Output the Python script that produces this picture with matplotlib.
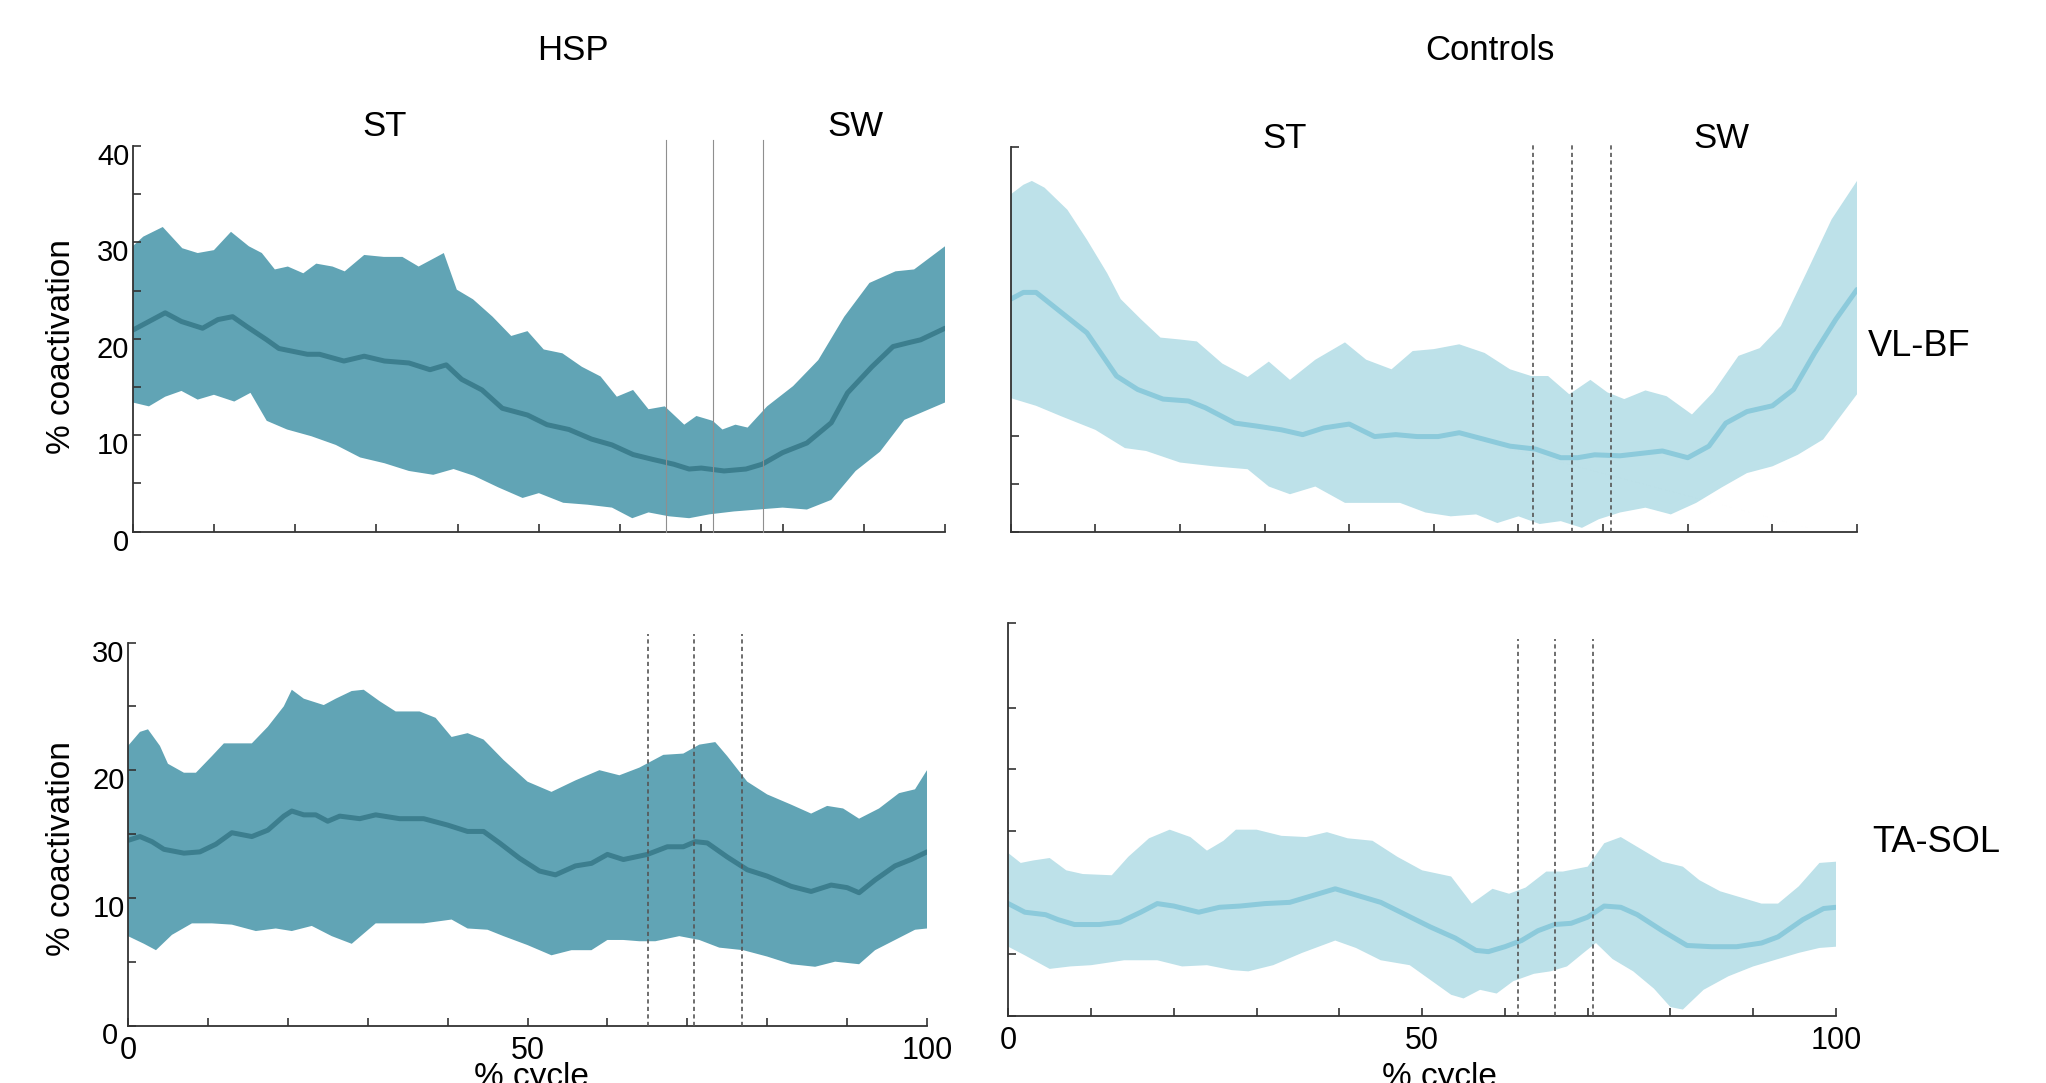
import numpy as np
import matplotlib
matplotlib.use('Agg')
import matplotlib.pyplot as plt
from matplotlib.transforms import ScaledTranslation

plt.rcParams['font.family'] = ['Liberation Sans', 'DejaVu Sans']

# HSP, VL-BF (上段左)
hsp_vlbf_up_x = [0, 1.3, 3.7, 6.1, 8.0, 10.0, 12.1, 14.3, 15.9, 17.5, 19.1, 21.0, 22.6, 24.6, 26.1, 28.5,
                 30.9, 33.2, 35.2, 37.2, 38.3, 39.9, 41.9, 44.3, 46.6, 48.6, 50.6, 52.9, 55.3, 57.6, 59.6,
                 61.6, 63.5, 65.5, 67.9, 69.4, 71.4, 72.6, 74.2, 75.7, 78.1, 81.3, 84.4, 87.6, 90.7, 93.9,
                 96.2, 100]
hsp_vlbf_up = [29.6, 30.6, 31.6, 29.4, 28.9, 29.2, 31.1, 29.6, 28.9, 27.2, 27.5, 26.8, 27.8, 27.5, 27.0, 28.7,
               28.5, 28.5, 27.5, 28.4, 28.9, 25.1, 24.1, 22.3, 20.3, 20.8, 18.9, 18.5, 17.1, 16.1, 14.0,
               14.7, 12.7, 13.0, 11.1, 12.0, 11.5, 10.6, 11.1, 10.8, 13.0, 15.1, 17.8, 22.3, 25.8, 27.0,
               27.2, 29.6]
hsp_vlbf_mean_x = [0, 2, 4, 6, 8.6, 10.5, 12.3, 14, 16.5, 18, 21.5, 23, 26, 28.5, 31, 34, 36.6, 38.6, 40.5,
                   43, 45.5, 48.6, 51, 53.7, 56.5, 59, 61.6, 64, 66.6, 68.5, 70, 72.8, 75.5, 77.5, 80, 83,
                   86, 88, 91, 93.6, 95.5, 97, 100]
hsp_vlbf_mean = [20.9, 21.8, 22.7, 21.8, 21.1, 22.0, 22.3, 21.3, 19.9, 19.0, 18.4, 18.4, 17.7, 18.2, 17.7,
                 17.5, 16.8, 17.3, 15.8, 14.7, 12.8, 12.1, 11.1, 10.6, 9.6, 9.0, 8.0, 7.5, 7.0, 6.5, 6.6,
                 6.3, 6.5, 7.0, 8.2, 9.2, 11.3, 14.4, 17.1, 19.2, 19.6, 19.9, 21.1]
hsp_vlbf_lo_x = [0, 2, 4, 6, 8, 10, 12.5, 14.5, 16.5, 19, 22, 25, 28, 31, 34, 37, 39.5, 42, 45, 48, 50, 53,
                 56, 59, 61.5, 63.5, 66, 68.5, 71, 74, 77, 80, 83, 86, 89, 92, 95, 97.5, 100]
hsp_vlbf_lo = [13.4, 13.0, 14.0, 14.6, 13.7, 14.2, 13.5, 14.4, 11.5, 10.6, 9.9, 9.0, 7.7, 7.1, 6.3, 5.9, 6.5,
               5.8, 4.6, 3.5, 4.0, 3.0, 2.8, 2.5, 1.4, 2.0, 1.6, 1.4, 1.8, 2.1, 2.3, 2.5, 2.3, 3.3, 6.3,
               8.3, 11.6, 12.5, 13.4]

# Controls, VL-BF (上段右)
ctl_vlbf_up_x = [0, 1.5, 2.5, 4, 6.7, 9, 11.4, 13, 15.4, 17.7, 20, 22, 25, 28, 30.5, 33, 36, 39.5, 42, 45,
                 47.5, 50, 53, 56, 59, 61.5, 63.5, 66, 68.5, 70.5, 72.5, 75, 77.5, 80.5, 83, 86, 88.5, 91,
                 94, 97, 100]
ctl_vlbf_up = [35.1, 36.1, 36.5, 35.8, 33.5, 30.4, 26.9, 24.2, 22.1, 20.2, 20.0, 19.8, 17.5, 16.1, 17.7,
               15.8, 17.9, 19.7, 17.9, 16.9, 18.8, 19.0, 19.5, 18.6, 16.9, 16.2, 16.2, 14.3, 15.8, 14.5,
               13.8, 14.7, 14.1, 12.2, 14.5, 18.3, 19.1, 21.4, 26.9, 32.5, 36.5]
ctl_vlbf_mean_x = [0, 1.5, 3, 5, 9, 12.5, 15, 18, 21, 23, 26.5, 29, 32, 34.5, 37, 40, 43, 45.5, 48, 50.5,
                   53, 56, 59, 62, 65, 67, 69, 72, 75, 77, 80, 82.5, 84.5, 87, 90, 92.5, 95, 97.5, 100]
ctl_vlbf_mean = [24.2, 24.9, 24.9, 23.5, 20.7, 16.2, 14.8, 13.8, 13.6, 12.9, 11.3, 11.0, 10.6, 10.1, 10.8,
                 11.2, 9.9, 10.1, 9.9, 9.9, 10.3, 9.6, 8.9, 8.6, 7.7, 7.7, 8.0, 7.9, 8.2, 8.4, 7.7, 8.9,
                 11.3, 12.5, 13.1, 14.8, 18.6, 22.1, 25.2]
ctl_vlbf_lo_x = [0, 3, 6, 10, 13.5, 16, 20, 24, 28, 30.5, 33, 36, 39.5, 43, 46, 49, 52, 55, 57.5, 60, 62.5,
                 65, 67.5, 69.5, 72, 75, 78, 81, 84, 87, 90, 93, 96, 100]
ctl_vlbf_lo = [13.9, 13.1, 12.0, 10.6, 8.7, 8.4, 7.2, 6.8, 6.5, 4.7, 3.9, 4.7, 3.0, 3.0, 3.0, 2.0, 1.6, 1.8,
               0.9, 1.6, 0.8, 1.1, 0.4, 1.3, 2.0, 2.5, 1.8, 3.0, 4.6, 6.1, 6.8, 8.0, 9.6, 14.3]

# HSP, TA-SOL (下段左)
hsp_tasol_up_x = [0, 1.5, 2.5, 4, 5, 7, 8.5, 10.5, 12, 14, 15.5, 17.5, 19.5, 20.5, 22, 24.5, 26, 28, 29.5,
                  31.5, 33.5, 36.5, 38.5, 40.5, 42.5, 44.5, 47, 50, 53, 56, 59, 61.5, 64, 67, 69.5, 71.5,
                  73.5, 75, 77.5, 80, 83, 85.5, 87.5, 89.5, 91.5, 94, 96.5, 98.5, 100]
hsp_tasol_up = [21.9, 23.0, 23.2, 21.9, 20.5, 19.8, 19.8, 21.1, 22.1, 22.1, 22.1, 23.4, 25.0, 26.3, 25.6,
                25.1, 25.6, 26.2, 26.3, 25.4, 24.6, 24.6, 24.1, 22.6, 22.9, 22.4, 20.8, 19.1, 18.3, 19.2,
                20.0, 19.6, 20.2, 21.2, 21.3, 22.0, 22.2, 21.1, 19.1, 18.1, 17.3, 16.6, 17.2, 17.0, 16.2,
                17.0, 18.2, 18.5, 20.0]
hsp_tasol_mean_x = [0, 1.5, 3, 4.5, 7, 9, 11, 13, 15.5, 17.5, 19.5, 20.5, 22, 23.5, 25, 26.5, 29, 31, 34,
                    37, 40, 42.5, 44.5, 46.5, 49, 51.5, 53.5, 56, 58, 60, 62, 65, 67.5, 69.5, 71, 72.5, 75,
                    77.5, 80, 83, 85.5, 88, 90, 91.5, 93.5, 96, 98, 100]
hsp_tasol_mean = [14.5, 14.8, 14.4, 13.8, 13.5, 13.6, 14.2, 15.1, 14.8, 15.3, 16.4, 16.8, 16.5, 16.5, 16.0,
                  16.4, 16.2, 16.5, 16.2, 16.2, 15.7, 15.2, 15.2, 14.3, 13.1, 12.1, 11.8, 12.5, 12.7, 13.4,
                  13.0, 13.4, 14.0, 14.0, 14.4, 14.3, 13.2, 12.2, 11.7, 10.9, 10.5, 11.0, 10.8, 10.4, 11.4,
                  12.5, 13.0, 13.6]
hsp_tasol_lo_x = [0, 2, 3.5, 5.5, 8, 10.5, 13, 16, 18.5, 20.5, 23, 25.5, 28, 31, 34, 37, 40.5, 42.5, 45, 47,
                  50, 53, 55.5, 58, 60, 62, 64, 66, 69, 71.5, 74, 77, 80, 83, 86, 88.5, 91.5, 93.5, 96,
                  98.5, 100]
hsp_tasol_lo = [7.0, 6.4, 5.9, 7.1, 8.0, 8.0, 7.9, 7.4, 7.6, 7.4, 7.8, 7.0, 6.4, 8.0, 8.0, 8.0, 8.3, 7.6,
                7.5, 7.0, 6.3, 5.5, 5.9, 5.9, 6.7, 6.7, 6.6, 6.6, 7.0, 6.7, 6.1, 5.9, 5.4, 4.8, 4.6, 5.0,
                4.8, 5.9, 6.7, 7.5, 7.6]

# Controls, TA-SOL (下段右)
ctl_tasol_up_x = [0, 1.5, 3, 5, 7, 9, 12.5, 14.5, 17, 19.5, 22, 24, 26, 27.5, 30, 33, 36, 38.5, 41, 44, 47,
                  50, 53.5, 56, 58.5, 60.5, 62.5, 65, 67, 70, 72, 74, 76, 79, 81.5, 83.5, 86, 88.5, 91, 93,
                  95.5, 98, 100]
ctl_tasol_up = [13.2, 12.4, 12.6, 12.8, 11.8, 11.5, 11.4, 12.9, 14.4, 15.1, 14.5, 13.4, 14.2, 15.1, 15.1,
                14.6, 14.5, 14.9, 14.4, 14.2, 12.9, 11.8, 11.3, 9.1, 10.3, 9.9, 10.4, 11.7, 11.7, 12.1,
                14.0, 14.5, 13.7, 12.5, 12.1, 11.0, 10.1, 9.6, 9.1, 9.1, 10.5, 12.4, 12.5]
ctl_tasol_mean_x = [0, 2, 4.5, 6, 8, 11, 13.5, 16, 18, 20, 23, 25.5, 28, 31, 34, 37, 39.5, 42, 45, 48, 51,
                    54, 56.5, 58, 60, 62, 64, 66, 68, 70, 72, 74, 76, 79, 82, 85, 88, 91, 93, 96, 98.5, 100]
ctl_tasol_mean = [9.1, 8.4, 8.2, 7.8, 7.4, 7.4, 7.6, 8.4, 9.1, 8.9, 8.4, 8.8, 8.9, 9.1, 9.2, 9.8, 10.3, 9.8,
                  9.2, 8.2, 7.2, 6.3, 5.3, 5.2, 5.6, 6.1, 6.9, 7.4, 7.5, 8.0, 8.9, 8.8, 8.2, 6.9, 5.7, 5.6,
                  5.6, 5.9, 6.4, 7.8, 8.7, 8.8]
ctl_tasol_lo_x = [0, 2, 5, 7.5, 10, 14, 18, 21, 24, 27, 29, 32, 35.5, 39.5, 42, 45, 48.5, 51, 53.5, 55, 57,
                  59, 61, 63.5, 65.5, 67.5, 69.5, 71, 73, 75.5, 78, 80, 81.5, 84, 87, 90, 92.5, 95.5, 98, 100]
ctl_tasol_lo = [5.6, 4.9, 3.8, 4.0, 4.1, 4.5, 4.5, 4.0, 4.1, 3.7, 3.6, 4.1, 5.1, 6.1, 5.5, 4.5, 4.1, 2.9,
                1.7, 1.4, 2.1, 1.8, 2.8, 3.4, 3.6, 4.0, 5.1, 5.9, 4.6, 3.6, 2.2, 0.7, 0.5, 2.1, 3.2, 4.0,
                4.5, 5.1, 5.5, 5.6]

# 歩行周期の区切り (% cycle)
hsp_vlbf_events = [65.7, 71.4, 77.6]
ctl_vlbf_events = [61.7, 66.3, 70.9]
hsp_tasol_events = [65.1, 70.9, 76.8]
ctl_tasol_events = [61.6, 66.1, 70.6]

# 色
hsp_fill, hsp_line = '#61a4b5', '#3c7e8e'
ctl_fill, ctl_line = '#bde1e9', '#8ccadb'

W, H = 2046, 1083
fig = plt.figure(figsize=(W / 100, H / 100), dpi=100)
label_shift = ScaledTranslation(0, -0.08, fig.dpi_scale_trans)
zero_shift = ScaledTranslation(-0.07, 0, fig.dpi_scale_trans)


def box(l, t, r, b):
    return [l / W, 1 - b / H, (r - l) / W, (b - t) / H]


def px(x, y):
    return x / W, 1 - y / H


def draw_panel(ax, ux, uy, mx, my, lx, ly, fc, lc, ymax, yticks, ylabels, xlabels,
               events, ev_top, ev_style, below=False):
    ax.fill(np.concatenate([ux, lx[::-1]]), np.concatenate([uy, ly[::-1]]),
            color=fc, lw=0, zorder=1)
    ax.plot(mx, my, color=lc, lw=3.6, solid_capstyle='round', zorder=2)
    for e in events:
        ax.plot([e, e], [0, ev_top], clip_on=False, zorder=3, **ev_style)
    ax.set_xlim(0, 100)
    ax.set_ylim(0, ymax)
    for s in ['top', 'right']:
        ax.spines[s].set_visible(False)
    for s in ['left', 'bottom']:
        ax.spines[s].set_color('#333333')
        ax.spines[s].set_linewidth(1.3)
    ax.set_xticks(range(0, 101, 10))
    ax.set_xticklabels(xlabels)
    ax.set_yticks(yticks)
    ax.set_yticklabels(ylabels)
    ax.tick_params(axis='both', direction='in', length=6, width=1.2, colors='#333333')
    ax.tick_params(axis='x', labelsize=22, pad=7.5, labelcolor='black')
    ax.tick_params(axis='y', labelsize=21, pad=2.5, labelcolor='black')
    for lab in ax.get_yticklabels():
        lab.set_transform(lab.get_transform() + label_shift)
    ax.set_axisbelow(below)


solid_ev = dict(color='#8f8f8f', lw=0.8)
dash_ev = dict(color='#555555', lw=1.2, linestyle=(0, (2.5, 2)))

no_x = [''] * 11
x_lab = ['0', '', '', '', '', '50', '', '', '', '', '100']

ax1 = fig.add_axes(box(132.7, 146, 945, 531.7))
draw_panel(ax1, np.array(hsp_vlbf_up_x), np.array(hsp_vlbf_up), hsp_vlbf_mean_x, hsp_vlbf_mean,
           np.array(hsp_vlbf_lo_x), np.array(hsp_vlbf_lo), hsp_fill, hsp_line, 40,
           range(0, 41, 5), ['0', '', '10', '', '20', '', '30', '', '40'], no_x,
           hsp_vlbf_events, 40.6, solid_ev)

ax2 = fig.add_axes(box(1010.7, 147.3, 1857, 531.7))
draw_panel(ax2, np.array(ctl_vlbf_up_x), np.array(ctl_vlbf_up), ctl_vlbf_mean_x, ctl_vlbf_mean,
           np.array(ctl_vlbf_lo_x), np.array(ctl_vlbf_lo), ctl_fill, ctl_line, 40,
           range(0, 41, 5), [''] * 9, no_x,
           ctl_vlbf_events, 40.6, dash_ev, below=True)

ax3 = fig.add_axes(box(128, 642.5, 927, 1025.5))
draw_panel(ax3, np.array(hsp_tasol_up_x), np.array(hsp_tasol_up), hsp_tasol_mean_x, hsp_tasol_mean,
           np.array(hsp_tasol_lo_x), np.array(hsp_tasol_lo), hsp_fill, hsp_line, 30,
           range(0, 31, 5), ['0', '', '10', '', '20', '', '30'], x_lab,
           hsp_tasol_events, 30.7, dash_ev)
# 下段左の y 軸「0」は x 軸の「0」と重ならないよう左へ
y0 = ax3.get_yticklabels()[0]
y0.set_transform(y0.get_transform() + zero_shift)

ax4 = fig.add_axes(box(1008.3, 622.7, 1836, 1015.7))
draw_panel(ax4, np.array(ctl_tasol_up_x), np.array(ctl_tasol_up), ctl_tasol_mean_x, ctl_tasol_mean,
           np.array(ctl_tasol_lo_x), np.array(ctl_tasol_lo), ctl_fill, ctl_line, 31.9,
           [0, 5, 10, 15, 20, 25, 31.9], [''] * 7, x_lab,
           ctl_tasol_events, 30.6, dash_ev, below=True)

# 見出し・ラベル
fig.text(*px(573, 50), 'HSP', fontsize=25, ha='center', va='center')
fig.text(*px(1490, 50), 'Controls', fontsize=25, ha='center', va='center')
fig.text(*px(385, 127), 'ST', fontsize=25, ha='center', va='center')
fig.text(*px(855, 127), 'SW', fontsize=25, ha='center', va='center')
fig.text(*px(1285, 138), 'ST', fontsize=25, ha='center', va='center')
fig.text(*px(1721, 138), 'SW', fontsize=25, ha='center', va='center')
fig.text(*px(1868, 346), 'VL-BF', fontsize=26, ha='left', va='center')
fig.text(*px(1872, 842), 'TA-SOL', fontsize=26, ha='left', va='center')
fig.text(*px(62, 347), '% coactivation', fontsize=24, rotation=90, ha='center', va='center')
fig.text(*px(62, 849), '% coactivation', fontsize=24, rotation=90, ha='center', va='center')
fig.text(*px(531, 1062), '% cycle', fontsize=24, ha='center', va='top')
fig.text(*px(1439, 1062), '% cycle', fontsize=24, ha='center', va='top')

fig.savefig('out.png', dpi=100)
